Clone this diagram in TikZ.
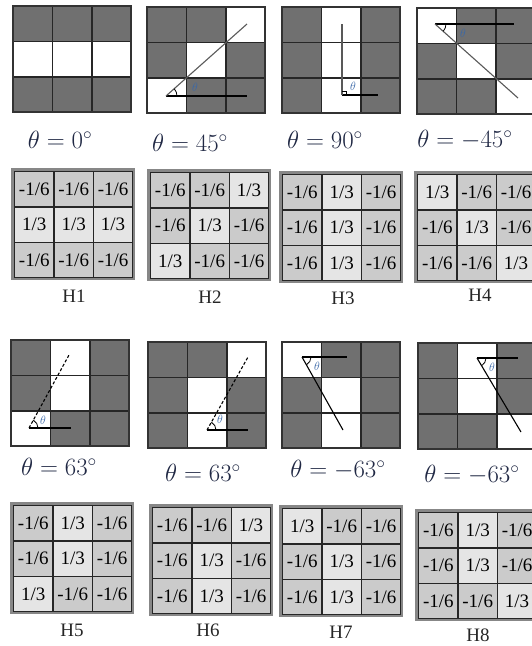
\documentclass[tikz,border=0pt]{standalone}
\usepackage{fontspec}
\setmainfont{Liberation Serif}
\usetikzlibrary{positioning,calc,angles}
\definecolor{darkCell}{RGB}{112,112,112}
\definecolor{lightCell}{RGB}{229,229,229}
\definecolor{midCell}{RGB}{203,203,203}
\definecolor{frameGray}{RGB}{135,135,135}
\definecolor{thetaBlue}{RGB}{58,104,168}
\definecolor{labelNavy}{RGB}{32,40,68}

\newcommand{\cellw}{39.4}
\newcommand{\cellh}{35.4}

% orientation pattern, cells row by row (1 = white, 0 = dark)
\newcommand{\orientgrid}[3]{%
  \foreach \c [count=\i from 0] in {#3}{
    \pgfmathtruncatemacro{\col}{mod(\i,3)}
    \pgfmathtruncatemacro{\row}{div(\i,3)}
    \ifnum\c=1 \def\cellfill{white}\else\def\cellfill{darkCell}\fi
    \fill[fill=\cellfill] ({#1+\col*\cellw},{#2-\row*\cellh}) rectangle ++(\cellw,-\cellh);
  }
  \foreach \k in {1,2}{
    \draw[gridline] ({#1+\k*\cellw},#2) -- ++(0,{-3*\cellh});
    \draw[gridline] (#1,{#2-\k*\cellh}) -- ++({3*\cellw},0);
  }
  \draw[gridframe] (#1,#2) rectangle ++({3*\cellw},{-3*\cellh});
}

% kernel matrix, same cell order
\newcommand{\kernelgrid}[4]{%
  \draw[kernelframe] ({#1-1.4},{#2+1.4}) rectangle ++({3*\cellw+2.8},{-3*\cellh-2.8});
  \foreach \c [count=\i from 0] in {#3}{
    \pgfmathtruncatemacro{\col}{mod(\i,3)}
    \pgfmathtruncatemacro{\row}{div(\i,3)}
    \ifnum\c=1 \def\cellfill{lightCell}\def\celltext{1/3}\else\def\cellfill{midCell}\def\celltext{-1/6}\fi
    \node[kcell, fill=\cellfill, name=#4-\i] at ({#1+\col*\cellw},{#2-\row*\cellh}) {\celltext};
  }
}

\begin{document}
\begin{tikzpicture}[x=1pt,y=1pt,
  gridline/.style={draw=black!85, line width=1.8pt},
  gridframe/.style={draw=black!80, line width=1.9pt},
  kernelframe/.style={draw=frameGray, line width=2.6pt},
  kcell/.style={draw=black!85, line width=1.2pt, anchor=north west, inner sep=0pt,
    minimum width=\cellw pt, minimum height=\cellh pt, font=\fontsize{19}{21}\selectfont},
  anglelabel/.style={text=labelNavy, font=\fontsize{24}{28}\selectfont},
  kernellabel/.style={text=black!85, font=\fontsize{19}{22}\selectfont},
  thetamark/.style={text=thetaBlue, font=\fontsize{12}{13}\selectfont, inner sep=0pt},
  baseline/.style={draw=black, line width=1.1pt},
  slopeline/.style={draw=black!65, line width=1.1pt},
  anglearc/.style={draw=black, line width=0.8pt}]

\fill[white] (0,0) rectangle (532,-646);
\useasboundingbox (0,0) rectangle (532,-646);
\clip (0,0) rectangle (532,-646);

% orientation patterns, first row
\orientgrid{13}{-6}{0,0,0,1,1,1,0,0,0}
\orientgrid{147}{-7}{0,0,1,0,1,0,1,0,0}
\orientgrid{282}{-7}{0,1,0,0,1,0,0,1,0}
\orientgrid{417}{-8}{1,0,0,0,1,0,0,0,1}

% 45 degrees
\coordinate (o2) at (166,-96);
\coordinate (h2) at (247,-96);
\coordinate (d2) at (247,-24);
\draw[baseline] (o2) -- (h2);
\draw[slopeline] (o2) -- (d2);
\pic[anglearc, angle radius=11] {angle = h2--o2--d2};
\node[thetamark] (m2) at (195,-87) {$\theta$};

% 90 degrees
\coordinate (o3) at (342,-95);
\coordinate (h3) at (378,-95);
\coordinate (d3) at (342,-24);
\draw[baseline] (o3) -- (h3);
\draw[slopeline] (o3) -- (d3);
\pic[anglearc, angle radius=4] {right angle = h3--o3--d3};
\node[thetamark] (m3) at (353,-86) {$\theta$};

% -45 degrees
\coordinate (o4) at (435,-24);
\coordinate (h4) at (514,-24);
\coordinate (d4) at (518,-98);
\draw[baseline] (o4) -- (h4);
\draw[slopeline] (o4) -- (d4);
\pic[anglearc, angle radius=11] {angle = d4--o4--h4};
\node[thetamark] (m4) at (463,-33) {$\theta$};

\node[anglelabel] (t0) at (60,-140) {$\theta = 0^{\circ}$};
\node[anglelabel] (t45) at (190,-143) {$\theta = 45^{\circ}$};
\node[anglelabel] (t90) at (325,-140) {$\theta = 90^{\circ}$};
\node[anglelabel] (tm45) at (465,-140) {$\theta = -45^{\circ}$};

% kernels, first row
\kernelgrid{14}{-171}{0,0,0,1,1,1,0,0,0}{k1}
\kernelgrid{150}{-172}{0,0,1,0,1,0,1,0,0}{k2}
\kernelgrid{282}{-174}{0,1,0,0,1,0,0,1,0}{k3}
\kernelgrid{417}{-174}{1,0,0,0,1,0,0,0,1}{k4}

\node[kernellabel] (H1) at (74,-296) {H1};
\node[kernellabel] (H2) at (210,-297) {H2};
\node[kernellabel] (H3) at (343,-298) {H3};
\node[kernellabel] (H4) at (480,-295) {H4};

% orientation patterns, second row
\orientgrid{11}{-340}{0,1,0,0,1,0,1,0,0}
\orientgrid{148}{-342}{0,0,1,0,1,0,0,1,0}
\orientgrid{282}{-342}{1,0,0,0,1,0,0,1,0}
\orientgrid{418}{-343}{0,1,0,0,1,0,0,0,1}

% 63 degrees
\coordinate (o5) at (29,-428);
\coordinate (h5) at (71,-428);
\coordinate (d5) at (69,-355);
\draw[baseline] (o5) -- (h5);
\draw[baseline, densely dashed] (o5) -- (d5);
\pic[anglearc, angle radius=9] {angle = h5--o5--d5};
\node[thetamark] (m5) at (43,-420) {$\theta$};

\coordinate (o6) at (207,-430);
\coordinate (h6) at (248,-430);
\coordinate (d6) at (248,-357);
\draw[baseline] (o6) -- (h6);
\draw[baseline, densely dashed] (o6) -- (d6);
\pic[anglearc, angle radius=9] {angle = h6--o6--d6};
\node[thetamark] (m6) at (220,-419) {$\theta$};

% -63 degrees
\coordinate (o7) at (302,-357);
\coordinate (h7) at (347,-357);
\coordinate (d7) at (343,-430);
\draw[baseline] (o7) -- (h7);
\draw[baseline] (o7) -- (d7);
\pic[anglearc, angle radius=9] {angle = d7--o7--h7};
\node[thetamark] (m7) at (317,-366) {$\theta$};

\coordinate (o8) at (477,-358);
\coordinate (h8) at (518,-358);
\coordinate (d8) at (521,-432);
\draw[baseline] (o8) -- (h8);
\draw[baseline] (o8) -- (d8);
\pic[anglearc, angle radius=9] {angle = d8--o8--h8};
\node[thetamark] (m8) at (492,-367) {$\theta$};

\node[anglelabel] (t63a) at (59,-467) {$\theta = 63^{\circ}$};
\node[anglelabel] (t63b) at (203,-473) {$\theta = 63^{\circ}$};
\node[anglelabel] (tm63a) at (338,-470) {$\theta = -63^{\circ}$};
\node[anglelabel] (tm63b) at (472,-475) {$\theta = -63^{\circ}$};

% kernels, second row
\kernelgrid{13}{-505}{0,1,0,0,1,0,1,0,0}{k5}
\kernelgrid{152}{-507}{0,0,1,0,1,0,0,1,0}{k6}
\kernelgrid{282}{-508}{1,0,0,0,1,0,0,1,0}{k7}
\kernelgrid{418}{-512}{0,1,0,0,1,0,0,0,1}{k8}

\node[kernellabel] (H5) at (72,-630) {H5};
\node[kernellabel] (H6) at (208,-630) {H6};
\node[kernellabel] (H7) at (341,-632) {H7};
\node[kernellabel] (H8) at (478,-635) {H8};
\end{tikzpicture}
\end{document}
